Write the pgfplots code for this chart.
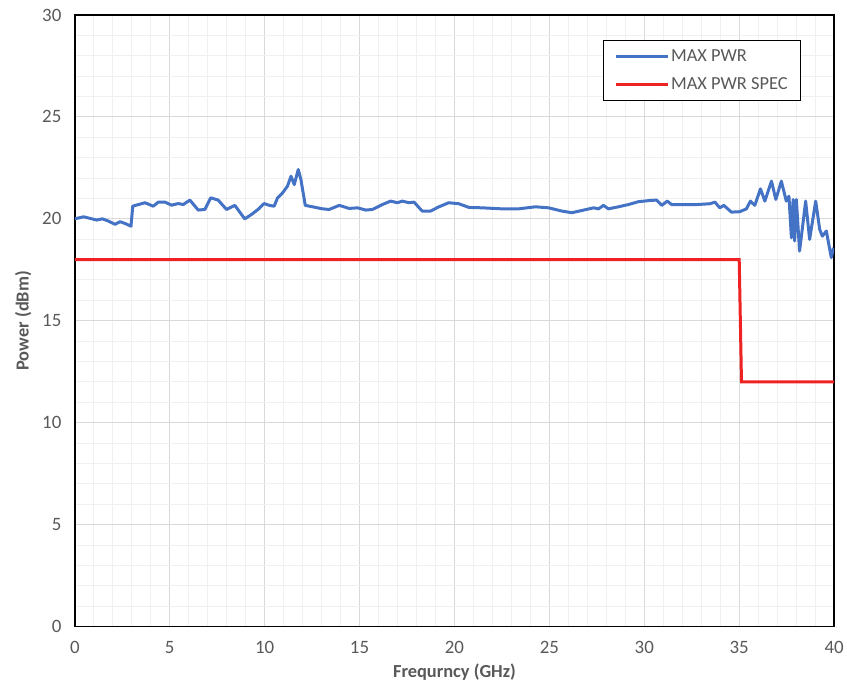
\documentclass[border=0pt]{standalone}
\usepackage{fontspec}
\setmainfont{Carlito}
\usepackage{pgfplots}
\pgfplotsset{compat=1.18}

\definecolor{pwrblue}{RGB}{68,114,196}
\definecolor{specred}{RGB}{238,34,34}
\definecolor{txtgray}{RGB}{89,89,89}
\definecolor{majgrid}{RGB}{217,217,217}
\definecolor{mingrid}{RGB}{240,240,240}

\begin{document}
\begin{tikzpicture}
\begin{axis}[
  scale only axis,
  width=761bp, height=613bp,
  xmin=0, xmax=40, ymin=0, ymax=30,
  xtick={0,5,...,40}, ytick={0,5,...,30},
  minor x tick num=4, minor y tick num=4,
  grid=both,
  major grid style={majgrid, line width=1.2bp},
  minor grid style={mingrid, line width=1bp},
  major tick length=0pt, minor tick length=0pt,
  axis line style={black, line width=1.5bp},
  /pgf/number format/assume math mode=true,
  ticklabel style={font=\fontsize{19}{21}\selectfont, text=txtgray},
  xticklabel style={yshift=-11bp},
  yticklabel style={xshift=-10bp},
  xlabel={\textbf{Frequrncy (GHz)}},
  ylabel={\textbf{Power (dBm)}},
  label style={font=\fontsize{18.5}{21}\selectfont, text=txtgray},
  xlabel style={yshift=-4bp},
  ylabel style={yshift=4bp},
  legend style={at={(0.695,0.959)}, anchor=north west, draw=black, line width=1.3bp,
    font=\fontsize{18.5}{21}\selectfont, text=txtgray, inner xsep=11bp, inner ysep=7bp,
    row sep=11bp, cells={anchor=west}},
  legend image code/.code={\draw[#1, line width=3bp] (0bp,0bp) -- (52bp,0bp);},
]
\addplot[pwrblue, line width=3bp, line join=round] coordinates {
(0,20.0) (0.46,20.1) (0.9,20.0) (1.15,19.94) (1.45,20.0) (1.77,19.89) (2.12,19.73)
(2.38,19.86) (2.65,19.77) (2.96,19.64) (3.05,20.62) (3.35,20.7) (3.7,20.79)
(4.13,20.62) (4.4,20.82) (4.75,20.82) (5.1,20.67) (5.45,20.75) (5.71,20.7)
(6.06,20.92) (6.5,20.43) (6.85,20.46) (7.16,21.03) (7.55,20.92) (7.99,20.46)
(8.43,20.66) (8.95,20.0) (9.3,20.21) (9.65,20.46) (9.97,20.75) (10.25,20.66)
(10.5,20.62) (10.68,21.03) (10.95,21.28) (11.2,21.6) (11.39,22.09) (11.56,21.68)
(11.77,22.42) (11.91,21.93) (12.14,20.66) (12.52,20.59) (13.05,20.49) (13.4,20.46)
(13.93,20.66) (14.45,20.51) (14.89,20.54) (15.33,20.43) (15.68,20.46) (16.2,20.7)
(16.64,20.87) (16.99,20.79) (17.25,20.87) (17.6,20.79) (17.87,20.82) (18.3,20.38)
(18.74,20.38) (19.18,20.59) (19.7,20.79) (20.23,20.74) (20.76,20.56) (21.46,20.54)
(22.5,20.49) (23.38,20.49) (24.26,20.59) (24.96,20.54) (25.66,20.38) (26.18,20.3)
(26.71,20.41) (27.33,20.54) (27.59,20.49) (27.85,20.66) (28.11,20.49) (28.64,20.59)
(29.16,20.7) (29.69,20.84) (30.3,20.9) (30.65,20.92) (30.92,20.66) (31.21,20.87)
(31.44,20.7) (32.05,20.7) (32.75,20.7) (33.46,20.74) (33.72,20.82) (33.98,20.54)
(34.19,20.66) (34.59,20.33) (35.03,20.35) (35.38,20.49) (35.59,20.87) (35.82,20.66)
(36.12,21.47) (36.35,20.87) (36.7,21.85) (36.93,20.95) (37.22,21.85) (37.48,20.87)
(37.62,21.11) (37.75,19.07) (37.84,20.95) (37.92,18.91) (38.01,20.95) (38.18,18.42)
(38.32,19.48) (38.5,20.87) (38.71,18.99) (39.03,20.87) (39.24,19.48) (39.38,19.15)
(39.59,19.4) (39.85,18.1) (39.97,18.58)
};
\addlegendentry{MAX PWR}
\addplot[specred, line width=3bp] coordinates {
(0,18) (35,18) (35.12,12) (40,12)
};
\addlegendentry{MAX PWR SPEC}
\end{axis}
\path (current axis.south west) ++(-75bp,-59bp) rectangle ++(847bp,687bp);
\end{tikzpicture}
\end{document}
